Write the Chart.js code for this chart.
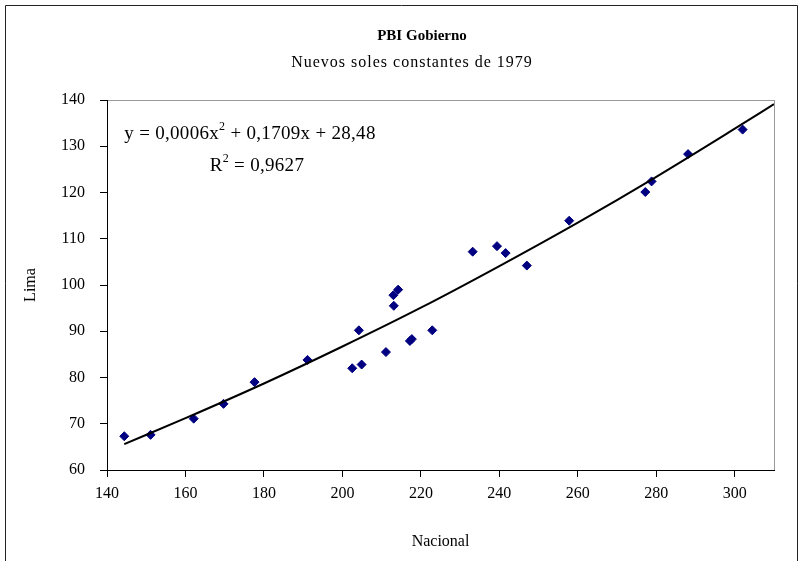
<!DOCTYPE html>
<html>
<head>
<meta charset="utf-8">
<script src="https://cdn.jsdelivr.net/npm/chart.js@4.4.0/dist/chart.umd.min.js"></script>
<style>
  html, body { margin: 0; padding: 0; background: #fff; }
  #wrap { width: 801px; height: 561px; }
</style>
</head>
<body>
<div id="wrap"><canvas id="pbiChart" width="801" height="561"></canvas></div>
<script>
// data
const nacional = [144.4, 151.1, 162.1, 169.7, 177.6, 191.1, 202.5, 204.2, 204.9, 211.1,
                  213.1, 213.0, 214.2, 217.2, 217.7, 222.9, 233.2, 239.4, 241.6, 247.0,
                  257.8, 277.2, 278.8, 288.1, 302.0];
const lima     = [67.3, 67.6, 71.1, 74.3, 79.0, 83.8, 82.0, 90.2, 82.8, 85.5,
                  95.5, 97.8, 99.0, 87.9, 88.3, 90.2, 107.2, 108.4, 106.9, 104.2,
                  113.9, 120.1, 122.4, 128.3, 133.6];

// polynomial trendline as drawn in the picture
const trendX = [144.4, 160, 180, 200, 220, 240, 260, 280, 300, 310];
const trendY = [65.6, 71.2, 78.7, 86.7, 95.1, 104.1, 113.5, 123.4, 133.8, 139.1];

const xTicks = [140, 160, 180, 200, 220, 240, 260, 280, 300];
const yTicks = [60, 70, 80, 90, 100, 110, 120, 130, 140];

const titleText = 'PBI Gobierno';
const subtitleText = 'Nuevos soles constantes de 1979';
const xTitle = 'Nacional';
const yTitle = 'Lima';

const serif = "'Liberation Serif', 'Times New Roman', serif";

// frame round the chart and grey border of the plot area
const framePlugin = {
  id: 'frame',
  beforeDraw(chart) {
    const ctx = chart.ctx;
    const a = chart.chartArea;
    ctx.save();
    ctx.fillStyle = '#fff';
    ctx.fillRect(0, 0, chart.width, chart.height);
    ctx.strokeStyle = '#222';
    ctx.lineWidth = 1;
    ctx.beginPath();
    ctx.moveTo(5.5, 561);
    ctx.lineTo(5.5, 5.5);
    ctx.lineTo(797.5, 5.5);
    ctx.lineTo(797.5, 561);
    ctx.stroke();
    ctx.strokeStyle = '#999';
    ctx.strokeRect(Math.round(a.left) + 0.5, Math.round(a.top) + 0.5,
                   Math.round(a.right - a.left), Math.round(a.bottom - a.top));
    ctx.restore();
  }
};

// titles and the trendline equation
const textPlugin = {
  id: 'texts',
  afterDraw(chart) {
    const ctx = chart.ctx;
    ctx.save();
    ctx.fillStyle = '#000';
    ctx.textAlign = 'center';
    ctx.textBaseline = 'middle';
    ctx.font = 'bold 15px ' + serif;
    ctx.fillText(titleText, 422, 36);
    ctx.letterSpacing = '1px';
    ctx.font = '16px ' + serif;
    ctx.fillText(subtitleText, 412, 63);

    // equation with superscripts, centred lines
    ctx.letterSpacing = '0.3px';
    const big = '19px ' + serif, small = '12px ' + serif;
    function drawLine(parts, cx, cy) {
      let w = 0;
      parts.forEach(p => { ctx.font = p.sup ? small : big; w += ctx.measureText(p.t).width; });
      let x = cx - w / 2;
      ctx.textAlign = 'left';
      ctx.textBaseline = 'alphabetic';
      parts.forEach(p => {
        ctx.font = p.sup ? small : big;
        ctx.fillText(p.t, x, p.sup ? cy - 3 : cy + 6);
        x += ctx.measureText(p.t).width;
      });
    }
    drawLine([{t: 'y = 0,0006x'}, {t: '2', sup: true}, {t: ' + 0,1709x + 28,48'}], 250, 133);
    drawLine([{t: 'R'}, {t: '2', sup: true}, {t: ' = 0,9627'}], 257, 165);
    ctx.restore();
  }
};

const ctx = document.getElementById('pbiChart').getContext('2d');
const pbiChart = new Chart(ctx, {
  type: 'scatter',
  data: {
    datasets: [
      {
        label: 'Trend',
        data: trendX.map((x, i) => ({x: x, y: trendY[i]})),
        showLine: true,
        borderColor: '#000',
        borderWidth: 2,
        pointRadius: 0,
        cubicInterpolationMode: 'monotone',
        order: 0
      },
      {
        label: 'PBI Gobierno',
        data: nacional.map((x, i) => ({x: x, y: lima[i]})),
        pointStyle: 'rectRot',
        pointRadius: 4.5,
        backgroundColor: '#000080',
        borderColor: '#000080',
        borderWidth: 1,
        order: 1
      }
    ]
  },
  options: {
    responsive: false,
    devicePixelRatio: 1,
    animation: false,
    layout: { padding: { left: 10, right: 27, top: 100, bottom: 5 } },
    plugins: {
      legend: { display: false },
      tooltip: { enabled: false }
    },
    scales: {
      x: {
        type: 'linear',
        min: 140,
        max: 310,
        afterBuildTicks: s => { s.ticks = xTicks.map(v => ({value: v})); },
        afterFit: s => { s.height = 86; },
        grid: { drawOnChartArea: false, drawTicks: true, tickLength: 7, color: '#000' },
        border: { display: true, color: '#000', width: 1 },
        ticks: { color: '#000', font: { family: serif, size: 16 }, padding: 7, maxRotation: 0 },
        title: { display: true, text: xTitle, color: '#000', font: { family: serif, size: 16 }, padding: { top: 0, bottom: 5 } }
      },
      y: {
        type: 'linear',
        min: 60,
        max: 140,
        afterBuildTicks: s => { s.ticks = yTicks.map(v => ({value: v})); },
        afterFit: s => { s.width = 97; },
        grid: { drawOnChartArea: false, drawTicks: true, tickLength: 7, color: '#000' },
        border: { display: true, color: '#000', width: 1 },
        ticks: { color: '#000', font: { family: serif, size: 16 }, padding: 15 },
        title: { display: true, text: yTitle, color: '#000', font: { family: serif, size: 16 }, padding: { top: 11, bottom: 0 } }
      }
    }
  },
  plugins: [framePlugin, textPlugin]
});
</script>
</body>
</html>
